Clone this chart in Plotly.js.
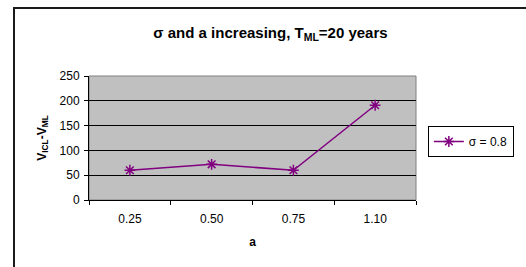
<!DOCTYPE html>
<html>
<head>
<meta charset="utf-8">
<script src="https://cdn.plot.ly/plotly-3.0.1.min.js"></script>
<style>
  html, body { margin: 0; padding: 0; background: #fff; }
  #wrap { position: relative; width: 526px; height: 267px; overflow: hidden; }
  #chart { position: absolute; left: 0; top: 0; width: 526px; height: 267px; }
  #frame { position: absolute; left: 13px; top: 7px; width: 520px; height: 270px;
           border-left: 2px solid #1a1a1a; border-top: 2px solid #1a1a1a; pointer-events: none; }
</style>
</head>
<body>
<div id="wrap">
  <div id="chart"></div>
  <div id="frame"></div>
</div>
<script>
const categories = ["0.25", "0.50", "0.75", "1.10"];
const values = [60, 72, 60, 191];
const seriesName = "σ = 0.8";
const yTicks = [0, 50, 100, 150, 200, 250];

const font = "Liberation Sans, Arial, sans-serif";

const trace = {
  x: categories,
  y: values,
  type: "scatter",
  mode: "lines+markers",
  name: seriesName,
  line: { color: "#800080", width: 1.5 },
  marker: { symbol: "asterisk-open", size: 9, color: "#800080",
            line: { color: "#800080", width: 1.5 } }
};

const layout = {
  width: 526, height: 267,
  margin: { l: 89, r: 106, t: 76, b: 67, pad: 0 },
  paper_bgcolor: "#ffffff",
  plot_bgcolor: "#c0c0c0",
  font: { family: font, size: 12, color: "#000" },
  title: {
    text: "<b>σ and a increasing, T<sub>ML</sub>=20 years</b>",
    font: { family: font, size: 15, color: "#000" },
    xref: "container", x: 270.5 / 526, xanchor: "center",
    yref: "container", y: 1 - 33 / 267, yanchor: "middle"
  },
  xaxis: {
    type: "category",
    range: [-0.5, 3.5],
    tickson: "boundaries",
    ticks: "outside", ticklen: 4, tickcolor: "#000", tickwidth: 1,
    ticklabelstandoff: 8,
    showline: true, linecolor: "#000", linewidth: 1,
    showgrid: false, zeroline: false,
    tickfont: { family: font, size: 12, color: "#000" },
    title: { text: "<b>a</b>", font: { family: font, size: 12, color: "#000" }, standoff: 12 },
    fixedrange: true
  },
  yaxis: {
    range: [0, 250],
    tickvals: yTicks,
    ticks: "outside", ticklen: 4, tickcolor: "#000", tickwidth: 1,
    ticklabelstandoff: 2,
    showline: true, linecolor: "#000", linewidth: 1,
    showgrid: true, gridcolor: "#000", gridwidth: 1,
    zeroline: false,
    tickfont: { family: font, size: 12, color: "#000" },
    title: { text: "<b>V<sub>ICL</sub>-V<sub>ML</sub></b>", font: { family: font, size: 12, color: "#000" }, standoff: 10 },
    fixedrange: true
  },
  showlegend: true,
  legend: {
    x: (432 - 89) / 331, xanchor: "left",
    y: (200 - 126) / 124, yanchor: "top",
    bgcolor: "#ffffff", bordercolor: "#000", borderwidth: 1,
    font: { family: font, size: 12, color: "#000" },
    tracegroupgap: 0
  },
  shapes: [
    { type: "rect", xref: "paper", yref: "paper", x0: 0, x1: 1, y0: 0, y1: 1,
      line: { color: "#808080", width: 1 }, layer: "below" }
  ]
};

Plotly.newPlot("chart", [trace], layout, { staticPlot: true, displayModeBar: false });
</script>
</body>
</html>
